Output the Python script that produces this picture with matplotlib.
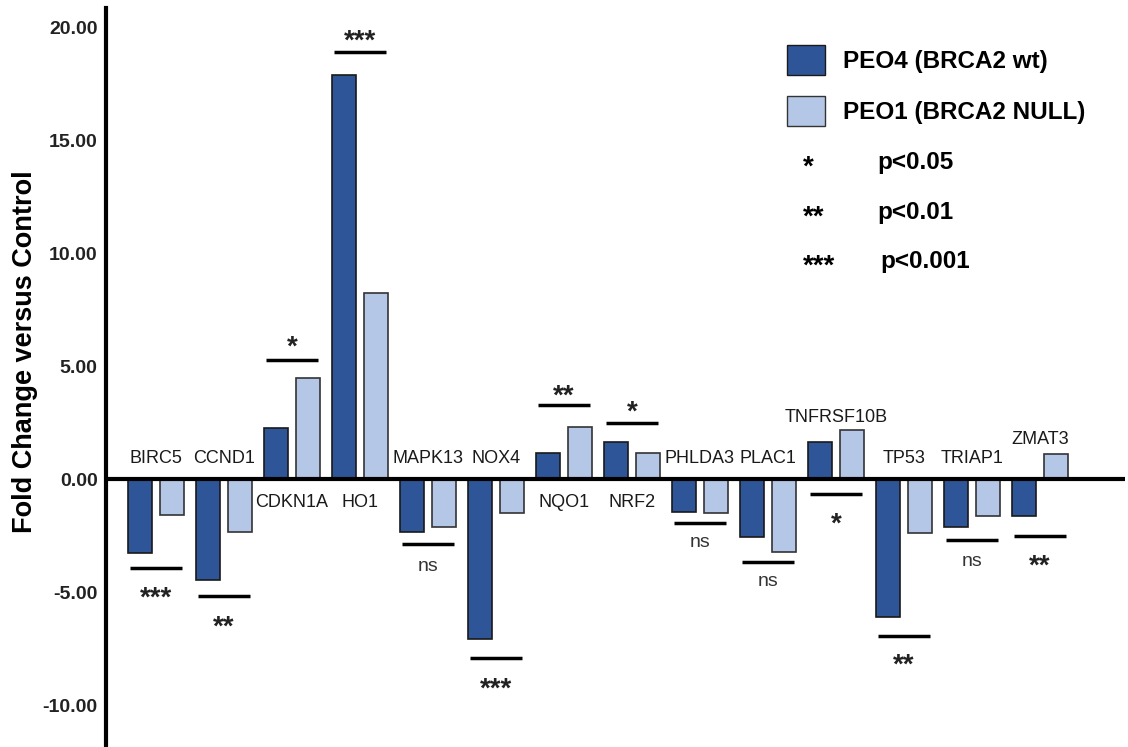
import matplotlib
matplotlib.use('Agg')
import matplotlib.pyplot as plt
from matplotlib.patches import Patch
import numpy as np

plt.rcParams['font.family'] = ['Liberation Sans', 'DejaVu Sans']

genes = ['BIRC5', 'CCND1', 'CDKN1A', 'HO1', 'MAPK13', 'NOX4', 'NQO1',
         'NRF2', 'PHLDA3', 'PLAC1', 'TNFRSF10B', 'TP53', 'TRIAP1', 'ZMAT3']
peo4 = [-3.27, -4.45, 2.28, 17.9, -2.35, -7.07, 1.15,
        1.66, -1.46, -2.54, 1.66, -6.08, -2.12, -1.62]
peo1 = [-1.58, -2.35, 4.48, 8.24, -2.10, -1.48, 2.33,
        1.15, -1.48, -3.23, 2.18, -2.39, -1.62, 1.12]
sig = ['***', '**', '*', '***', 'ns', '***', '**',
       '*', 'ns', 'ns', '*', '**', 'ns', '**']
# y of gene name label, significance bar, significance text
label_y = [0.9, 0.9, -1.05, -1.05, 0.9, 0.9, -1.05,
           -1.05, 0.9, 0.9, 2.75, 0.9, 0.9, 1.75]
bar_y = [-3.91, -5.15, 5.28, 18.9, -2.88, -7.9, 3.27,
         2.5, -1.95, -3.65, -0.64, -6.96, -2.69, -2.51]
text_y = [-4.85, -6.1, 6.26, 19.8, -3.87, -8.84, 4.1,
          3.38, -2.82, -4.53, -1.58, -7.82, -3.65, -3.42]

dark = '#2E5597'
light = '#B4C7E7'

fig = plt.figure(figsize=(11.28, 7.47), dpi=100)
ax = fig.add_axes([106/1128, 0, 1 - 106/1128 - 3/1128, 1 - 8/747])

x = np.arange(len(genes))
w = 0.35
off = 0.23
ax.bar(x - off, peo4, w, color=dark, edgecolor='#1a1a1a', linewidth=1.2, zorder=2)
ax.bar(x + off, peo1, w, color=light, edgecolor='#333333', linewidth=1.2, zorder=2)
ax.axhline(0, color='black', linewidth=3, zorder=3)

for i, g in enumerate(genes):
    ax.text(x[i], label_y[i], g, ha='center', va='center', fontsize=13,
            color='#1a1a1a')
    ax.plot([x[i] - 0.38, x[i] + 0.38], [bar_y[i], bar_y[i]], color='black',
            linewidth=2.5, solid_capstyle='butt')
    if sig[i] == 'ns':
        ax.text(x[i], text_y[i], 'ns', ha='center', va='center', fontsize=14,
                color='#333333')
    else:
        ax.text(x[i], text_y[i] - 0.45, sig[i], ha='center', va='center',
                fontsize=20, fontweight='bold', color='#222222')

ax.set_xlim(-0.735, 14.25)
ax.set_ylim(-11.85, 20.85)
ax.set_yticks([-10, -5, 0, 5, 10, 15, 20])
ax.set_yticklabels(['%.2f' % v for v in [-10, -5, 0, 5, 10, 15, 20]],
                   fontsize=14, fontweight='bold', color='#222222')
ax.tick_params(axis='y', length=0, pad=6)
ax.set_xticks([])
for s in ['top', 'right', 'bottom']:
    ax.spines[s].set_visible(False)
ax.spines['left'].set_linewidth(3)

fig.text(25/1128, 1 - 352/747, 'Fold Change versus Control', rotation=90,
         ha='center', va='center', fontsize=19.5, fontweight='bold')

# legend
handles = [Patch(facecolor=dark, edgecolor='#1a1a1a', label='PEO4 (BRCA2 wt)'),
           Patch(facecolor=light, edgecolor='#333333', label='PEO1 (BRCA2 NULL)')]
fig.legend(handles=handles, loc='upper left', bbox_to_anchor=(765/1128, 1 - 23/747),
           frameon=False, handlelength=1.55, handleheight=1.55,
           labelspacing=0.85, handletextpad=0.75,
           prop={'weight': 'bold', 'size': 17.5})

stars = ['*', '**', '***']
pvals = ['p<0.05', 'p<0.01', 'p<0.001']
star_y = [163, 213, 262]
pval_x = [877, 877, 880]
for s, p, yy, px in zip(stars, pvals, star_y, pval_x):
    fig.text(803/1128, 1 - (yy + 5)/747, s, ha='left', va='center', fontsize=20,
             fontweight='bold')
    fig.text(px/1128, 1 - yy/747, p, ha='left', va='center', fontsize=17.5,
             fontweight='bold')

fig.savefig('out.png', dpi=100)
